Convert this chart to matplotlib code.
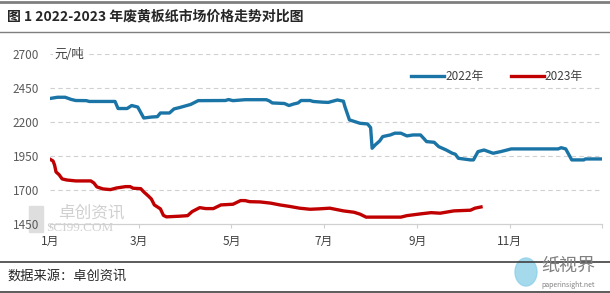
import pandas as pd
import matplotlib
matplotlib.use("Agg")
import matplotlib.pyplot as plt
from matplotlib.lines import Line2D
from matplotlib.patches import Ellipse, Rectangle

plt.rcParams['font.family'] = ['Noto Sans CJK SC', 'DejaVu Sans']

# 2022 series (month-day, yuan/ton)
dates_2022 = ['01-01', '01-06', '01-11', '01-15', '01-18', '01-25', '01-27', '02-13', '02-15', '02-21',
              '02-24', '02-28', '03-04', '03-09', '03-13', '03-15', '03-21', '03-24', '03-28', '04-04',
              '04-09', '04-27', '04-29', '05-02', '05-10', '05-24', '05-26', '05-28', '06-05', '06-08',
              '06-11', '06-14', '06-16', '06-22', '06-24', '06-30', '07-04', '07-10', '07-14', '07-15',
              '07-18', '07-25', '07-30', '08-01', '08-02', '08-04', '08-07', '08-09', '08-14', '08-17',
              '08-21', '08-25', '08-29', '09-03', '09-05', '09-07', '09-12', '09-15', '09-20', '09-24',
              '09-26', '09-28', '10-06', '10-08', '10-11', '10-15', '10-21', '10-26', '11-02', '12-03',
              '12-05', '12-08', '12-12', '12-20', '12-21', '12-31']
price_2022 = [2372, 2381, 2381, 2365, 2357, 2356, 2350, 2350, 2298, 2298,
              2320, 2309, 2228, 2235, 2238, 2265, 2265, 2295, 2306, 2328,
              2356, 2357, 2364, 2356, 2363, 2363, 2354, 2339, 2335, 2320,
              2331, 2339, 2357, 2357, 2350, 2345, 2343, 2361, 2352, 2312,
              2214, 2189, 2184, 2157, 2005, 2029, 2059, 2091, 2103, 2116,
              2116, 2096, 2103, 2103, 2079, 2054, 2049, 2017, 1992, 1968,
              1961, 1931, 1919, 1919, 1980, 1992, 1968, 1980, 2000, 2000,
              2009, 2000, 1919, 1919, 1926, 1926]

# 2023 series
dates_2023 = ['01-01', '01-03', '01-04', '01-05', '01-07', '01-09', '01-12', '01-18', '01-28', '01-30',
              '02-01', '02-05', '02-10', '02-14', '02-20', '02-23', '02-25', '03-02', '03-04', '03-07',
              '03-09', '03-11', '03-15', '03-17', '03-19', '03-28', '04-02', '04-05', '04-10', '04-14',
              '04-19', '04-24', '05-02', '05-07', '05-10', '05-13', '05-20', '05-27', '06-02', '06-09',
              '06-15', '06-22', '06-28', '07-05', '07-14', '07-21', '07-25', '07-29', '08-21', '08-25',
              '09-03', '09-10', '09-16', '09-25', '10-06', '10-09', '10-13']
price_2023 = [1924, 1911, 1882, 1830, 1810, 1779, 1771, 1764, 1764, 1749,
              1720, 1705, 1700, 1712, 1722, 1722, 1710, 1707, 1683, 1653,
              1631, 1587, 1558, 1510, 1499, 1504, 1508, 1538, 1567, 1560,
              1560, 1587, 1592, 1619, 1619, 1611, 1609, 1600, 1587, 1575,
              1563, 1555, 1558, 1563, 1543, 1533, 1519, 1497, 1497, 1508,
              1521, 1530, 1526, 1543, 1548, 1563, 1572]

month_ticks = ['01-01', '03-01', '05-01', '07-01', '09-01', '11-01']
month_labels = ['1月', '3月', '5月', '7月', '9月', '11月']
y_ticks = [1450, 1700, 1950, 2200, 2450, 2700]


def to_day(md):
    # day of year, Jan 1 = 0 (non-leap year)
    return pd.Timestamp('2022-' + md).dayofyear - 1


x22 = [to_day(d) for d in dates_2022]
x23 = [to_day(d) for d in dates_2023]

fig = plt.figure(figsize=(6.1, 2.93), dpi=100)
ax = fig.add_axes([50 / 610, 1 - 223.5 / 293, 552 / 610, 169.5 / 293])

ax.plot(x22, price_2022, color='#1b74a6', lw=2.4, solid_joinstyle='round', label='2022年', zorder=3)
ax.plot(x23, price_2023, color='#c00000', lw=2.4, solid_joinstyle='round', label='2023年', zorder=3)

ax.set_xlim(0, 365)
ax.set_ylim(1450, 2700)
ax.set_yticks(y_ticks)
ax.set_xticks([to_day(m) for m in month_ticks] + [365])
ax.set_xticklabels(month_labels + [''])
for y in y_ticks[1:]:
    ax.axhline(y, color='#d0d0d0', lw=0.8, ls=(0, (4, 3)), zorder=1)

for s in ['top', 'right', 'left']:
    ax.spines[s].set_visible(False)
ax.spines['bottom'].set_color('#d0d0d0')
ax.spines['bottom'].set_linewidth(0.9)
ax.tick_params(axis='y', length=0, labelsize=8.5, labelcolor='#595959', pad=8)
ax.tick_params(axis='x', length=3, color='#d0d0d0', labelsize=8.5, labelcolor='#404040', pad=5)

ax.text(0.008, 1.0, '元/吨', transform=ax.transAxes, ha='left', va='center', fontsize=9,
        color='#404040', bbox=dict(facecolor='white', edgecolor='none', pad=1), zorder=4)

ax.legend(loc='upper right', bbox_to_anchor=(0.985, 0.97), ncol=2, frameon=False, fontsize=8.5,
          handlelength=2.8, handletextpad=0.1, columnspacing=2.3, labelcolor='#404040')

# header / footer rules and texts
fig.add_artist(Line2D([0, 1], [1 - 1.5 / 293] * 2, color='#7f7f7f', lw=2))
fig.add_artist(Line2D([0, 1], [1 - 31.5 / 293] * 2, color='#7f7f7f', lw=1))
fig.add_artist(Line2D([0, 1], [1 - 261.5 / 293] * 2, color='#404040', lw=1.2))
fig.add_artist(Line2D([0, 1], [1 - 291.5 / 293] * 2, color='#404040', lw=1.2))
fig.text(0.012, 1 - 16 / 293, '图 1 2022-2023 年废黄板纸市场价格走势对比图', fontsize=10,
         fontweight='bold', color='#262626', va='center')
fig.text(0.012, 1 - 276 / 293, '数据来源：卓创资讯', fontsize=9.5, color='#262626', va='center')

# watermarks
fig.add_artist(Rectangle((29 / 610, 1 - 232 / 293), 14 / 610, 26 / 293, color='#dedede', zorder=0))
fig.text(58 / 610, 1 - 213 / 293, '卓创资讯', fontsize=12, color='#d0d0d0', va='center', zorder=0)
fig.text(46 / 610, 1 - 228 / 293, 'SCI99.COM', fontsize=9.5, color='#d0d0d0', va='center',
         family='Liberation Serif', zorder=0)
fig.add_artist(Ellipse((526 / 610, 1 - 272 / 293), 22 / 610, 28 / 293, color='#8fd0e8', alpha=0.8))
fig.text(541 / 610, 1 - 266 / 293, '纸视界', fontsize=13, color='#808080', va='center')
fig.text(541 / 610, 1 - 285 / 293, 'paperinsight.net', fontsize=5, color='#808080', va='center')

fig.savefig('out.png', dpi=100)
